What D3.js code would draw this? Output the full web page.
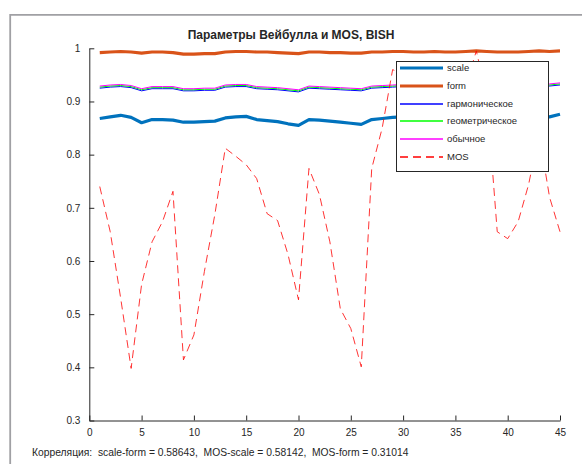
<!DOCTYPE html>
<html>
<head>
<meta charset="utf-8">
<script src="https://cdn.jsdelivr.net/npm/d3@7"></script>
<style>
  body { margin: 0; background: #fff; }
  svg text { font-family: "Liberation Sans", Arial, sans-serif; fill: #262626; }
</style>
</head>
<body>
<svg width="582" height="464"></svg>
<script>
// sample numbers
const idx = [1,2,3,4,5,6,7,8,9,10,11,12,13,14,15,16,17,18,19,20,21,22,23,24,25,
  26,27,28,29,30,31,32,33,34,35,36,37,38,39,40,41,42,43,44,45];

const scaleVals = [0.868,0.871,0.874,0.870,0.860,0.866,0.866,0.865,0.861,0.861,0.862,0.863,
  0.869,0.871,0.872,0.866,0.864,0.862,0.858,0.855,0.866,0.865,0.863,0.861,0.859,0.857,
  0.866,0.868,0.870,0.871,0.869,0.868,0.870,0.866,0.868,0.870,0.874,0.871,0.866,0.864,
  0.866,0.869,0.872,0.871,0.876];

const formVals = [0.992,0.993,0.994,0.993,0.991,0.993,0.993,0.992,0.989,0.989,0.990,0.990,
  0.993,0.994,0.994,0.993,0.993,0.992,0.991,0.990,0.993,0.993,0.992,0.992,0.991,0.991,
  0.993,0.993,0.994,0.994,0.993,0.993,0.994,0.993,0.993,0.994,0.995,0.994,0.993,0.993,
  0.993,0.994,0.995,0.994,0.995];

const harmVals = [0.925,0.927,0.928,0.926,0.920,0.924,0.924,0.924,0.920,0.920,0.921,0.921,
  0.927,0.928,0.928,0.924,0.923,0.922,0.920,0.918,0.925,0.924,0.923,0.922,0.921,0.920,
  0.925,0.926,0.927,0.928,0.926,0.925,0.927,0.924,0.925,0.927,0.929,0.928,0.924,0.923,
  0.924,0.926,0.928,0.929,0.931];

const geomVals = [0.927,0.929,0.930,0.928,0.922,0.926,0.926,0.926,0.922,0.922,0.923,0.923,
  0.929,0.930,0.930,0.926,0.925,0.924,0.922,0.920,0.927,0.926,0.925,0.924,0.923,0.922,
  0.927,0.928,0.929,0.930,0.928,0.927,0.929,0.926,0.927,0.929,0.931,0.930,0.926,0.925,
  0.926,0.928,0.930,0.931,0.933];

const ordVals = [0.929,0.931,0.932,0.930,0.924,0.928,0.928,0.928,0.924,0.924,0.925,0.925,
  0.931,0.932,0.932,0.928,0.927,0.926,0.924,0.922,0.929,0.928,0.927,0.926,0.925,0.924,
  0.929,0.930,0.931,0.932,0.930,0.929,0.931,0.928,0.929,0.931,0.933,0.932,0.928,0.927,
  0.928,0.930,0.932,0.933,0.935];

const mosVals = [0.740,0.655,0.530,0.398,0.556,0.636,0.674,0.731,0.414,0.461,0.580,0.687,
  0.812,0.797,0.781,0.755,0.689,0.676,0.612,0.527,0.774,0.725,0.636,0.510,0.473,0.401,
  0.774,0.850,0.960,0.950,0.930,0.900,0.920,0.880,0.900,0.930,0.995,0.910,0.655,0.642,
  0.674,0.744,0.840,0.720,0.655];

const xTicks = [0,5,10,15,20,25,30,35,40,45];
const yTicks = [0.3,0.4,0.5,0.6,0.7,0.8,0.9,1];

const seriesNames = ["scale","form","гармоническое","геометрическое","обычное","MOS"];
const titleText = "Параметры Вейбулла и MOS, BISH";
const corrText = "Корреляция:  scale-form = 0.58643,  MOS-scale = 0.58142,  MOS-form = 0.31014";

const series = [
  {name: seriesNames[0], vals: scaleVals, color: "#0072BD", w: 3.2},
  {name: seriesNames[1], vals: formVals, color: "#D95319", w: 3.2},
  {name: seriesNames[2], vals: harmVals, color: "#0000ff", w: 1},
  {name: seriesNames[3], vals: geomVals, color: "#00ff00", w: 1},
  {name: seriesNames[4], vals: ordVals, color: "#ff00ff", w: 1},
  {name: seriesNames[5], vals: mosVals, color: "#ff0000", w: 0.8, dash: "8,5"}
];

const svg = d3.select("svg");

// figure frame (grey edge)
svg.append("path")
  .attr("d", "M10.2,464 V14.8 H582")
  .attr("fill", "none")
  .attr("stroke", "#a0a0a4")
  .attr("stroke-width", 1.8);

const x = d3.scaleLinear().domain([0, 45]).range([89.3, 560]);
const y = d3.scaleLinear().domain([0.3, 1]).range([420.5, 48.3]);

const line = vals => d3.line()
  .x((d, i) => x(idx[i]))
  .y(d => y(d))(vals);

series.forEach(s => {
  svg.append("path")
    .attr("d", line(s.vals))
    .attr("fill", "none")
    .attr("stroke", s.color)
    .attr("stroke-width", s.w)
    .attr("stroke-dasharray", s.dash || null)
    .attr("stroke-linejoin", "round");
});

// axes
const yAxis = svg.append("g")
  .attr("transform", `translate(${x(0)},0)`)
  .call(d3.axisLeft(y).tickValues(yTicks).tickFormat(d => d3.format("~g")(d))
    .tickSizeInner(-5).tickSizeOuter(0).tickPadding(9));

const xAxis = svg.append("g")
  .attr("transform", `translate(0,${y(0.3)})`)
  .call(d3.axisBottom(x).tickValues(xTicks)
    .tickSizeInner(-5).tickSizeOuter(0).tickPadding(8));

[yAxis, xAxis].forEach(g => {
  g.selectAll("path, line").attr("stroke", "#262626");
  g.selectAll("text").style("font-size", "10px").attr("fill", "#262626")
    .style("font-family", "'Liberation Sans', Arial, sans-serif");
});

// title
svg.append("text")
  .attr("x", 291).attr("y", 39)
  .attr("text-anchor", "middle")
  .style("font-size", "12px").style("font-weight", "bold")
  .text(titleText);

// legend
const lg = svg.append("g");
lg.append("rect")
  .attr("x", 396.5).attr("y", 61.5).attr("width", 152).attr("height", 110)
  .attr("fill", "#fff").attr("stroke", "#262626").attr("stroke-width", 1);

series.forEach((s, i) => {
  const yy = Math.round(68 + i * 17.8);
  lg.append("line")
    .attr("x1", 400).attr("x2", 443).attr("y1", yy).attr("y2", yy)
    .attr("stroke", s.color).attr("stroke-width", s.w > 1 ? s.w : 1.3)
    .attr("stroke-dasharray", s.dash || null);
  lg.append("text")
    .attr("x", 447).attr("y", yy).attr("dy", "0.35em")
    .style("font-size", "9.5px")
    .text(s.name);
});

// correlation note
svg.append("text")
  .attr("x", 32).attr("y", 456)
  .style("font-size", "10.3px")
  .style("white-space", "pre")
  .text(corrText);
</script>
</body>
</html>
